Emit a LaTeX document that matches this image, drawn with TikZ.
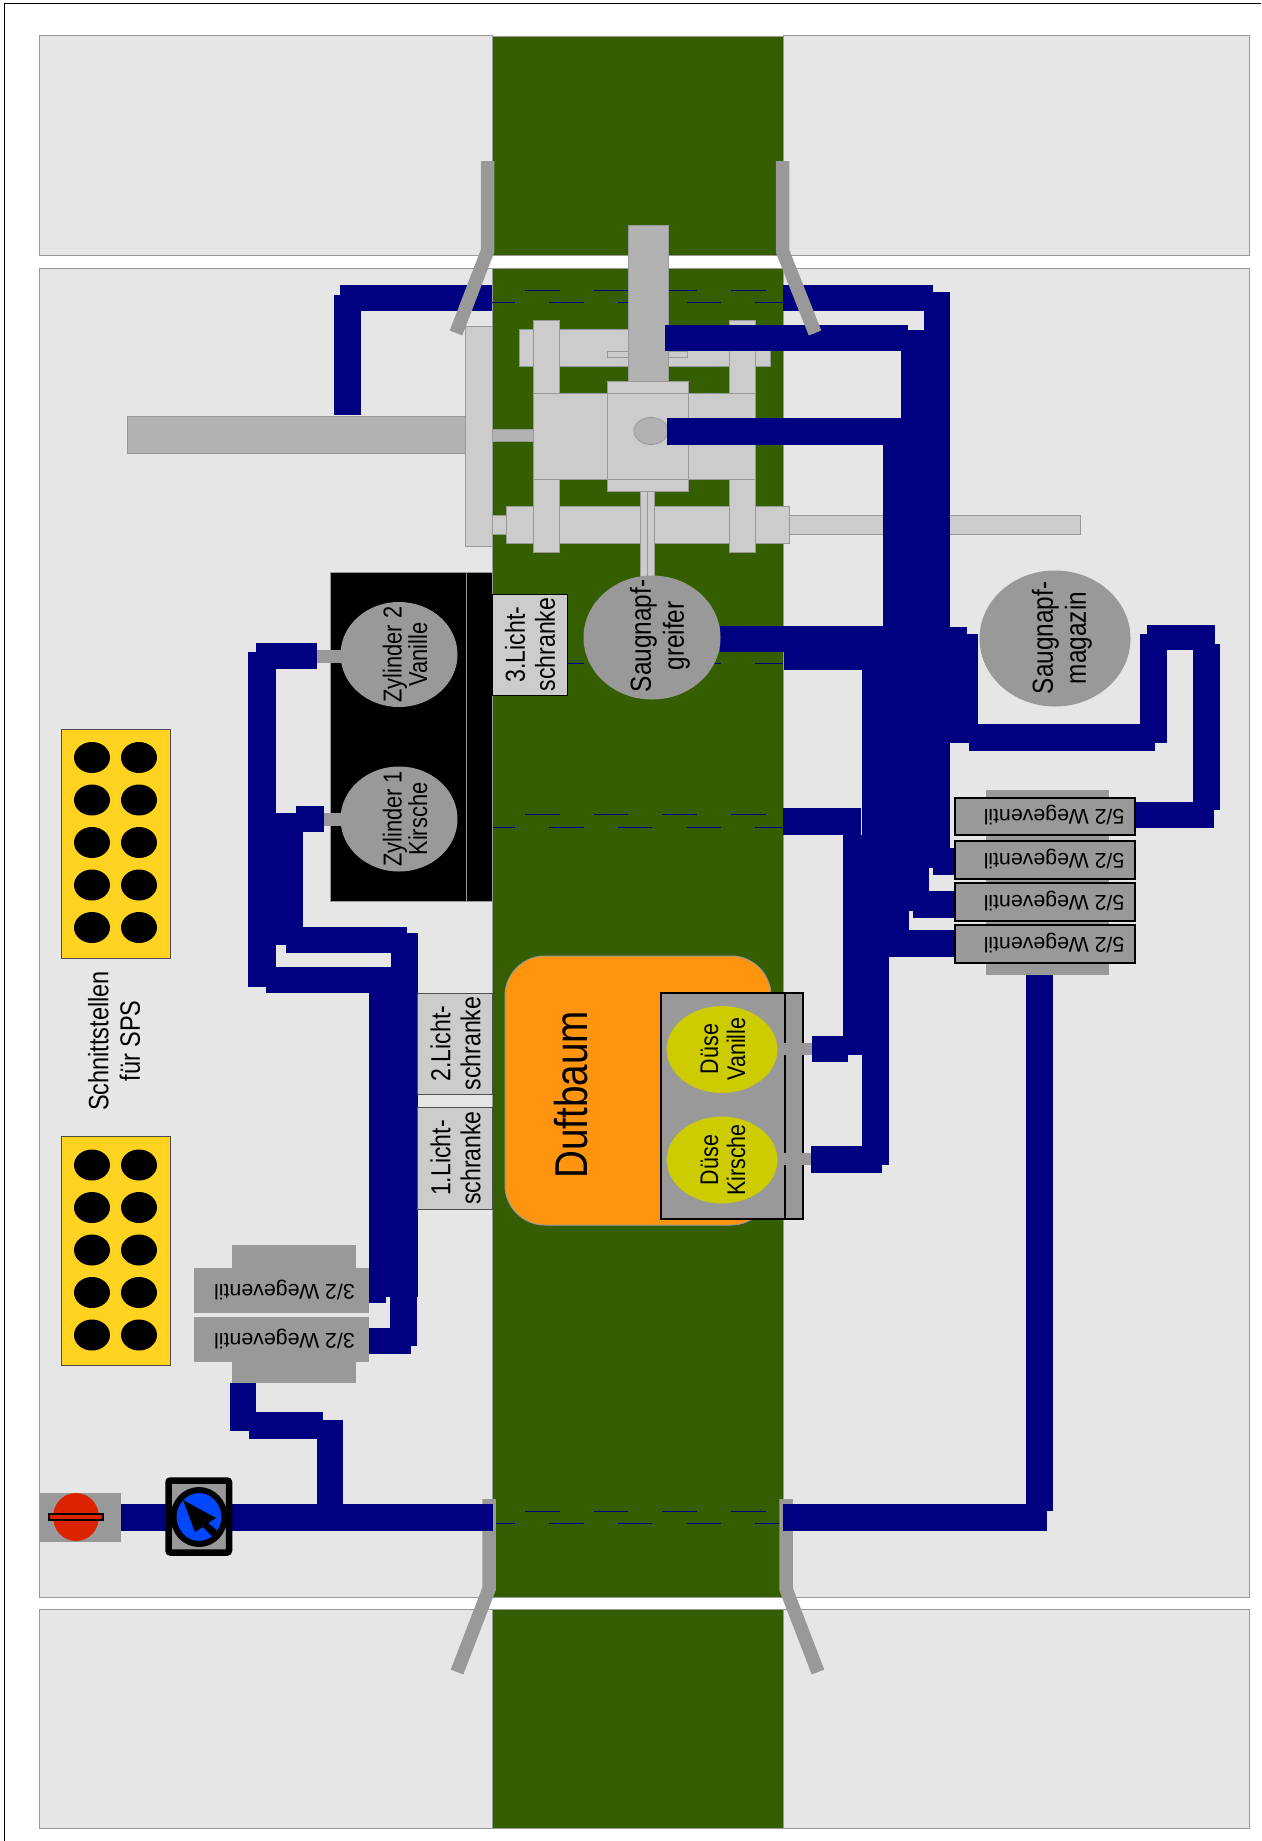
\documentclass[tikz,border=0pt]{standalone}
\usepackage{fontspec}
\setmainfont{Liberation Sans}
\newfontfamily\narrowfont[FakeStretch=0.84]{Liberation Sans}
\definecolor{panelgray}{HTML}{E6E6E6}
\definecolor{edgegray}{HTML}{999999}
\definecolor{beltgreen}{HTML}{355E00}
\definecolor{hosenavy}{HTML}{000080}
\definecolor{partgray}{HTML}{999999}
\definecolor{lightgray}{HTML}{CCCCCC}
\definecolor{midgray}{HTML}{B2B2B2}
\definecolor{sockyellow}{HTML}{FFD320}
\definecolor{treeorange}{HTML}{FF950E}
\definecolor{nozzleyellow}{HTML}{CCCC00}
\definecolor{dialblue}{HTML}{0047FF}
\definecolor{knobred}{HTML}{DC2300}
\tikzset{
	panel/.style={fill=panelgray, draw=edgegray, line width=1pt},
	belt/.style={fill=beltgreen, draw=edgegray, line width=0.8pt},
	hose/.style={fill=hosenavy},
	part/.style={fill=lightgray, draw=edgegray, line width=0.8pt},
	darkpart/.style={fill=midgray, draw=edgegray, line width=0.8pt},
	stub/.style={fill=partgray},
	arm/.style={draw=partgray, line width=13.5pt, miter limit=4},
	guide/.style={draw=hosenavy, line width=1pt, dash pattern=on 34.5pt off 34.2pt},
	valvebox/.style={fill=partgray, draw=black, line width=2.5pt},
	sidetext/.style={rotate=90, align=center, inner sep=0pt, font=\narrowfont\fontsize{26}{25.5}\selectfont},
	lichttext/.style={sidetext, font=\narrowfont\fontsize{27.5}{30}\selectfont},
	suckertext/.style={sidetext, font=\narrowfont\fontsize{29}{33}\selectfont},
	valvetext/.style={rotate=180, inner sep=0pt, font=\fontsize{21.3}{25}\selectfont}
}
\begin{document}
\begin{tikzpicture}[x=1pt, y=-1pt]
	\useasboundingbox (0,0) rectangle (1261,1841);
	\draw[black, line width=1.2pt] (4.5,1841) -- (4.5,3.5) -- (1261,3.5);

	\foreach \ya/\yb in {36/255, 268/1597, 1609/1828} {
		\draw[panel] (39,\ya) rectangle (492,\yb);
		\draw[panel] (783,\ya) rectangle (1249,\yb);
		\draw[belt] (492,\ya) rectangle (783,\yb);
	}
	\foreach \yy in {290, 650, 814, 1511}
		\draw[guide, dash phase=35.7pt] (492,\yy) -- (783,\yy);
	\foreach \yy in {302, 663, 827, 1523}
		\draw[guide, dash phase=11.5pt] (492,\yy) -- (783,\yy);

	\draw[darkpart] (127,416) rectangle (465,453);
	\draw[part] (465,326) rectangle (492,546);
	\draw[darkpart] (492,429) rectangle (533,441);
	\draw[part] (519,329.5) rectangle (770,366);
	\draw[part] (789,515.5) rectangle (1080,534);
	\draw[part] (492,515.5) rectangle (506,534);
	\draw[part] (506,506) rectangle (789,543);
	\draw[part] (607,351) rectangle (687,357);
	\foreach \xx in {533, 729} {
		\draw[part] (\xx,320) rectangle ++(26.5,73);
		\draw[part] (\xx,479) rectangle ++(26.5,73);
	}
	\draw[part] (533,393) rectangle (755,479);
	\draw[part] (607,381.5) rectangle (688,491);
	\draw[edgegray, line width=0.8pt] (607,393) -- (688,393) (607,479) -- (688,479);
	\draw[darkpart] (651,431) ellipse (17 and 13.5);
	\draw[darkpart] (628,225) rectangle (668,381.5);
	\draw[part] (640.5,491) rectangle (654.5,577);
	\draw[edgegray, line width=0.8pt] (647.5,491) -- (647.5,577);

	\draw[fill=black, draw=edgegray, line width=1pt] (330,572) rectangle (492,901);
	\draw[edgegray, line width=1pt] (466,572) -- (466,901);
	\fill[stub] (317,650) rectangle (342,663);
	\fill[stub] (324,813) rectangle (342,826);

	\draw[fill=treeorange, draw=edgegray, line width=1pt, rounded corners=40pt] (505,956) rectangle (771,1225);
	\draw[fill=partgray, draw=black, line width=2.5pt] (661,993) rectangle (803,1219);
	\draw[black, line width=2.5pt] (785,993) -- (785,1219);
	\fill[stub] (779,1043) rectangle (812,1055);
	\fill[stub] (779,1153) rectangle (812,1165);

	\foreach \yy in {1245, 1317}
		\fill[stub] (232,\yy) rectangle ++(124,66);
	\fill[stub] (986,790) rectangle (1109,975);
	\draw[arm] (489,1499) -- (489,1589) -- (457,1672);
	\draw[arm] (786,1499) -- (786,1589) -- (818,1672);

	\foreach \xa/\ya/\xb/\yb in {340/285/492/311, 334/295/361/415,
		783/285/933/311, 924/292/950/335, 665/325/908/351, 901/330/950/418,
		667/418/901/445, 883/418/950/650, 720/626/883/652, 784/645/862/670,
		862/640/950/848, 950/627/967/640, 950/634/978/743, 969/724/1155/751,
		1140/634/1167/743, 1147/625/1215/650, 1193/644/1220/810, 1135/802/1214/828,
		783/808/861/835, 880/848/929/911, 929/848/955/868, 933/848/955/875,
		913/891/955/918, 880/911/909/930, 889/930/955/957, 843/835/889/1055,
		812/1036/848/1062, 862/1055/889/1165, 811/1146/882/1173,
		230/1383/256/1431, 249/1412/323/1439, 317/1420/343/1504,
		121/1504/168/1531, 228/1504/493/1531, 783/1504/1047/1531, 1026/975/1053/1511,
		368/1328/411/1354, 390/993/417/1346, 369/993/418/1297, 368/1277/386/1303,
		266/967/391/993, 248/652/276/987, 256/643/317/669, 286/927/407/953,
		391/933/418/1000, 276/813/303/945, 296/806/324/832}
		\fill[hose] (\xa,\ya) rectangle (\xb,\yb);

	\draw[arm] (487.5,161) -- (487.5,251) -- (456,333);
	\draw[arm] (782.5,161) -- (782.5,251) -- (815,333);

	\foreach \yy in {1136.5, 729} {
		\draw[fill=sockyellow, draw=black!70, line width=1pt] (61,\yy) rectangle ++(109,229);
		\foreach \yo in {28.5, 71, 113.5, 156, 198.5} {
			\fill[black] (92,\yy+\yo) ellipse (18 and 15.5);
			\fill[black] (139,\yy+\yo) ellipse (18 and 15.5);
		}
	}
	\node[sidetext, font=\narrowfont\fontsize{28}{31.5}\selectfont] (sps) at (114,1041) {Schnittstellen\\für SPS};

	\fill[partgray] (39,1493) rectangle (121,1542);
	\fill[knobred] (76,1517) ellipse (23 and 24);
	\draw[fill=knobred, draw=black, line width=2pt] (49,1514) rectangle (103,1520);

	\draw[fill=partgray, draw=black, line width=6.5pt, rounded corners=2pt] (168.5,1480.5) rectangle (229,1552.5);
	\draw[fill=dialblue, draw=black, line width=6pt] (199,1517) ellipse (25.5 and 27);
	\fill[black] (183,1500) -- (216,1518) -- (208,1523) -- (219,1532) -- (214,1538) -- (203,1527) -- (195,1532) -- cycle;

	\foreach \ya/\yb/\nn in {1268/1312/upper, 1317/1361/lower} {
		\draw[fill=partgray, draw=edgegray, line width=1pt] (194,\ya) rectangle (368,\yb);
		\node[valvetext] (threetwo\nn) at (284.5,{(\ya+\yb)/2}) {3/2 Wegeventil};
	}
	\foreach \ya/\yb/\nn in {798/835/a, 841/879/b, 883/921/c, 925/963/d} {
		\draw[valvebox] (955,\ya) rectangle (1135,\yb);
		\node[valvetext] (fivetwo\nn) at (1054,{(\ya+\yb)/2-1.5}) {5/2 Wegeventil};
	}

	\foreach \ya/\yb/\nn in {1107/1209/1, 993/1094/2} {
		\draw[fill=lightgray, draw=black!70, line width=1pt] (417,\ya) rectangle (492,\yb);
		\node[lichttext] (licht\nn) at (455.5,{(\ya+\yb)/2}) {\nn.Licht-\\schranke};
	}
	\draw[fill=lightgray, draw=black, line width=1pt] (492,594) rectangle (567,695);
	\node[lichttext] (licht3) at (530,644.5) {3.Licht-\\schranke};

	\draw[fill=partgray, draw=edgegray, line width=1pt] (399,654.5) ellipse (58 and 52);
	\draw[fill=partgray, draw=edgegray, line width=1pt] (399,819) ellipse (58 and 52);
	\node[sidetext] (zyl2) at (405,654.5) {Zylinder 2\\Vanille};
	\node[sidetext] (zyl1) at (405,819) {Zylinder 1\\Kirsche};

	\draw[fill=partgray, draw=edgegray, line width=1pt] (652,637.5) ellipse (68 and 61.5);
	\node[suckertext] (greifer) at (660,636) {Saugnapf-\\greifer};
	\draw[fill=partgray, draw=edgegray, line width=1pt] (1055,638.5) ellipse (75 and 67.5);
	\node[suckertext] (magazin) at (1062,638) {Saugnapf-\\magazin};

	\node[sidetext, font=\narrowfont\fontsize{46}{50}\selectfont] (duftbaum) at (571,1095) {Duftbaum};

	\draw[fill=nozzleyellow, draw=edgegray, line width=1pt] (722,1049.5) ellipse (56 and 44);
	\draw[fill=nozzleyellow, draw=edgegray, line width=1pt] (722,1160) ellipse (56 and 44);
	\node[sidetext, font=\narrowfont\fontsize{25.5}{27}\selectfont] (vanille) at (723,1049) {Düse\\Vanille};
	\node[sidetext, font=\narrowfont\fontsize{25.5}{27}\selectfont] (kirsche) at (723,1160) {Düse\\Kirsche};
\end{tikzpicture}
\end{document}
